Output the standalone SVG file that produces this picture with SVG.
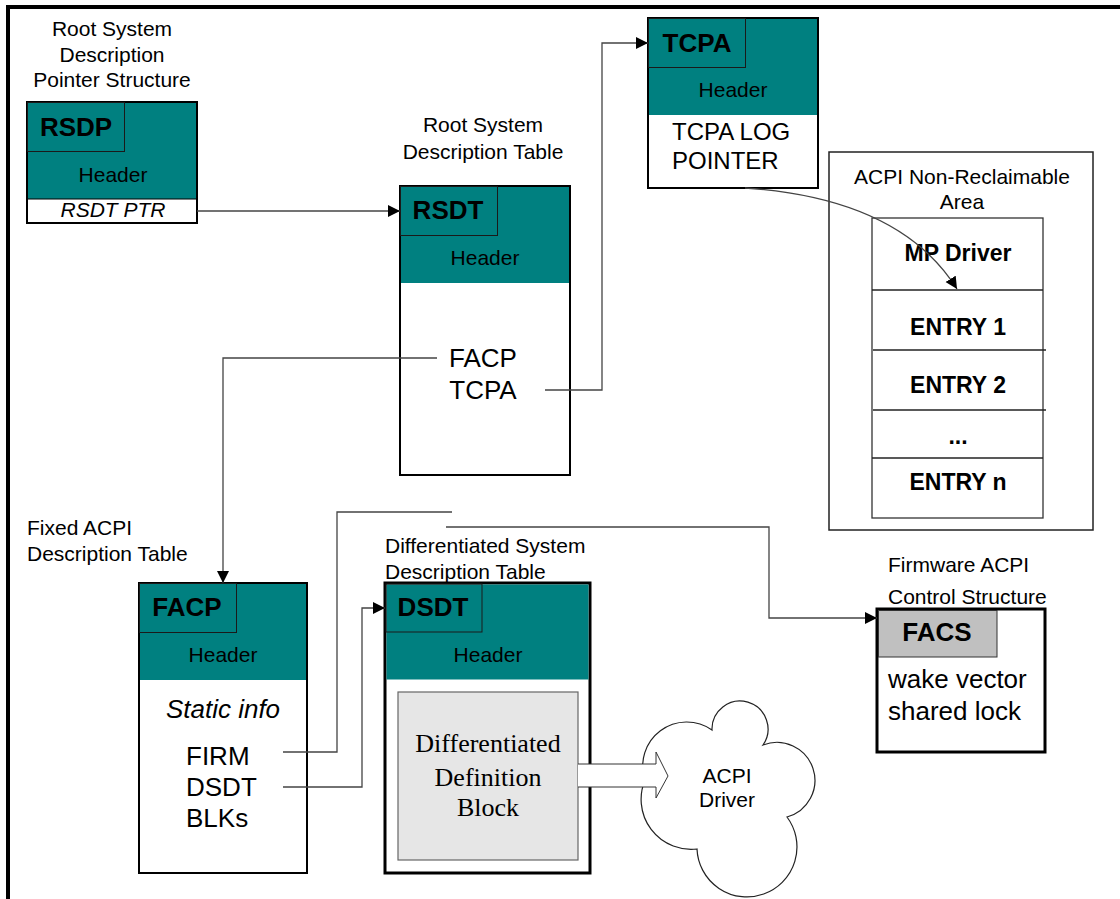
<svg xmlns="http://www.w3.org/2000/svg" width="1120" height="899" viewBox="0 0 1120 899">
<style>
text{font-family:"Liberation Sans",Arial,sans-serif;fill:#000}
.t21{font-size:21px}
.hdr{font-size:21px;text-anchor:middle}
.lbl{font-size:26px;font-weight:bold}
.box{fill:#fff;stroke:#000;stroke-width:2}
.thick{fill:#fff;stroke:#000;stroke-width:3}
.teal{fill:#008080;stroke:none}
.lb{fill:none;stroke:#1a1a1a;stroke-width:1}
.conn{fill:none;stroke:#444;stroke-width:1.3}
.ent{font-size:23px;font-weight:bold;text-anchor:middle}
.big{font-size:26px}
.ser{font-family:"Liberation Serif","Times New Roman",serif;font-size:26px;text-anchor:middle}
</style>
<defs>
<marker id="arr" markerUnits="userSpaceOnUse" markerWidth="13" markerHeight="13" refX="12" refY="6" orient="auto">
<path d="M0,0 L12,6 L0,12 z" fill="#000"/>
</marker>
</defs>
<g id="frame">
<line x1="6" y1="7" x2="1120" y2="7" stroke="#000" stroke-width="4"/>
<line x1="8" y1="5" x2="8" y2="899" stroke="#000" stroke-width="4"/>
</g>
<g id="rsdp">
<text class="hdr" x="112" y="36">Root System</text>
<text class="hdr" x="112" y="62">Description</text>
<text class="hdr" x="112" y="87">Pointer Structure</text>
<rect class="box" x="27" y="102" width="170" height="121"/>
<rect class="teal" x="28" y="103" width="168" height="96"/>
<line x1="27" y1="199" x2="197" y2="199" stroke="#000" stroke-width="1"/>
<rect class="lb" x="27.5" y="102.5" width="97" height="49"/>
<text class="lbl" x="76" y="136" text-anchor="middle">RSDP</text>
<text class="hdr" x="113" y="182">Header</text>
<text class="hdr" x="113" y="217" font-style="italic">RSDT PTR</text>
</g>
<g id="rsdt">
<text class="hdr" x="483" y="132">Root System</text>
<text class="hdr" x="483" y="159">Description Table</text>
<rect class="box" x="400" y="186" width="170" height="289"/>
<rect class="teal" x="401" y="187" width="168" height="96"/>
<rect class="lb" x="400.5" y="186.5" width="97" height="49"/>
<text class="lbl" x="448" y="219" text-anchor="middle">RSDT</text>
<text class="hdr" x="485" y="265">Header</text>
<text class="big" x="483" y="367" text-anchor="middle">FACP</text>
<text class="big" x="483" y="399" text-anchor="middle">TCPA</text>
</g>
<g id="tcpa">
<rect class="box" x="648" y="18" width="170" height="170"/>
<rect class="teal" x="649" y="19" width="168" height="96"/>
<rect class="lb" x="648.5" y="18.5" width="97" height="49"/>
<text class="lbl" x="697" y="52" text-anchor="middle">TCPA</text>
<text class="hdr" x="733" y="97">Header</text>
<text x="672" y="140" font-size="24">TCPA LOG</text>
<text x="672" y="169" font-size="24">POINTER</text>
</g>
<g id="acpi-area">
<rect x="829" y="152" width="264" height="378" fill="#fff" stroke="#222" stroke-width="1.5"/>
<text class="hdr" x="962" y="184">ACPI Non-Reclaimable</text>
<text class="hdr" x="962" y="209">Area</text>
<rect x="872" y="218" width="171" height="300" fill="#fff" stroke="#333" stroke-width="1.3"/>
<line x1="872" y1="290" x2="1043" y2="290" stroke="#222" stroke-width="1.3"/>
<line x1="873" y1="350" x2="1046" y2="350" stroke="#222" stroke-width="1.3"/>
<line x1="873" y1="410" x2="1046" y2="410" stroke="#222" stroke-width="1.3"/>
<line x1="872" y1="458" x2="1043" y2="458" stroke="#222" stroke-width="1.3"/>
<text class="ent" x="958" y="261">MP Driver</text>
<text class="ent" x="958" y="335">ENTRY 1</text>
<text class="ent" x="958" y="393">ENTRY 2</text>
<text class="ent" x="958" y="444">...</text>
<text class="ent" x="958" y="490">ENTRY n</text>
</g>
<g id="facp">
<text class="t21" x="27" y="535">Fixed ACPI</text>
<text class="t21" x="27" y="561">Description Table</text>
<rect class="box" x="139" y="583" width="168" height="290"/>
<rect class="teal" x="140" y="584" width="166" height="96"/>
<rect class="lb" x="139.5" y="583.5" width="97" height="49"/>
<text class="lbl" x="187" y="616" text-anchor="middle">FACP</text>
<text class="hdr" x="223" y="662">Header</text>
<text class="big" x="223" y="718" text-anchor="middle" font-style="italic">Static info</text>
<text class="big" x="186" y="765">FIRM</text>
<text class="big" x="186" y="796">DSDT</text>
<text class="big" x="186" y="827">BLKs</text>
</g>
<g id="dsdt">
<text class="t21" x="385" y="553">Differentiated System</text>
<text class="t21" x="385" y="579">Description Table</text>
<rect class="thick" x="385" y="583" width="205" height="290"/>
<rect class="teal" x="386.5" y="584.5" width="202" height="95"/>
<rect class="lb" x="386" y="584" width="96" height="48"/>
<text class="lbl" x="433" y="616" text-anchor="middle">DSDT</text>
<text class="hdr" x="488" y="662">Header</text>
<rect x="398" y="692" width="180" height="168" fill="#e6e6e6" stroke="#666" stroke-width="1.2"/>
<text class="ser" x="488" y="752">Differentiated</text>
<text class="ser" x="488" y="786">Definition</text>
<text class="ser" x="488" y="816">Block</text>
</g>
<g id="facs">
<text class="t21" x="888" y="572">Firmware ACPI</text>
<text class="t21" x="888" y="604">Control Structure</text>
<rect class="thick" x="877" y="609" width="168" height="143"/>
<rect x="878.5" y="610.5" width="118.5" height="46.5" fill="#c0c0c0" stroke="#333" stroke-width="1"/>
<text class="lbl" x="937" y="641" text-anchor="middle">FACS</text>
<text class="big" x="888" y="688">wake vector</text>
<text class="big" x="888" y="720">shared lock</text>
</g>
<g id="acpi-driver">
<path d="M712,730 A28,28 0 1,1 763,745 A38,38 0 1,1 787,817 A50,50 0 1,1 697,849 A50,50 0 0,1 645,780 A44,44 0 0,1 712,730 Z" fill="#fff" stroke="#222" stroke-width="1.2"/>
<text class="hdr" x="727" y="783">ACPI</text>
<text class="hdr" x="727" y="807">Driver</text>
</g>
<g id="connectors">
<line class="conn" x1="197" y1="211" x2="400" y2="211" marker-end="url(#arr)"/>
<path class="conn" d="M437,358 H223 V583" marker-end="url(#arr)"/>
<path class="conn" d="M545,390 H602 V43 H648" marker-end="url(#arr)"/>
<path class="conn" d="M745,188 C850,195 920,230 957,289" marker-end="url(#arr)" stroke="#111"/>
<path class="conn" d="M283,752 H337 V512 H452"/>
<path class="conn" d="M446,527 H769 V618 H877" marker-end="url(#arr)"/>
<path class="conn" d="M283,787 H362 V608 H385" marker-end="url(#arr)"/>
<polygon points="578,764 656,764 656,752 668,776 656,798 656,787 578,787" fill="#fff" stroke="none"/>
<polyline points="578,764 656,764 656,752 668,776 656,798 656,787 578,787" fill="none" stroke="#333" stroke-width="1"/>
</g>
</svg>
